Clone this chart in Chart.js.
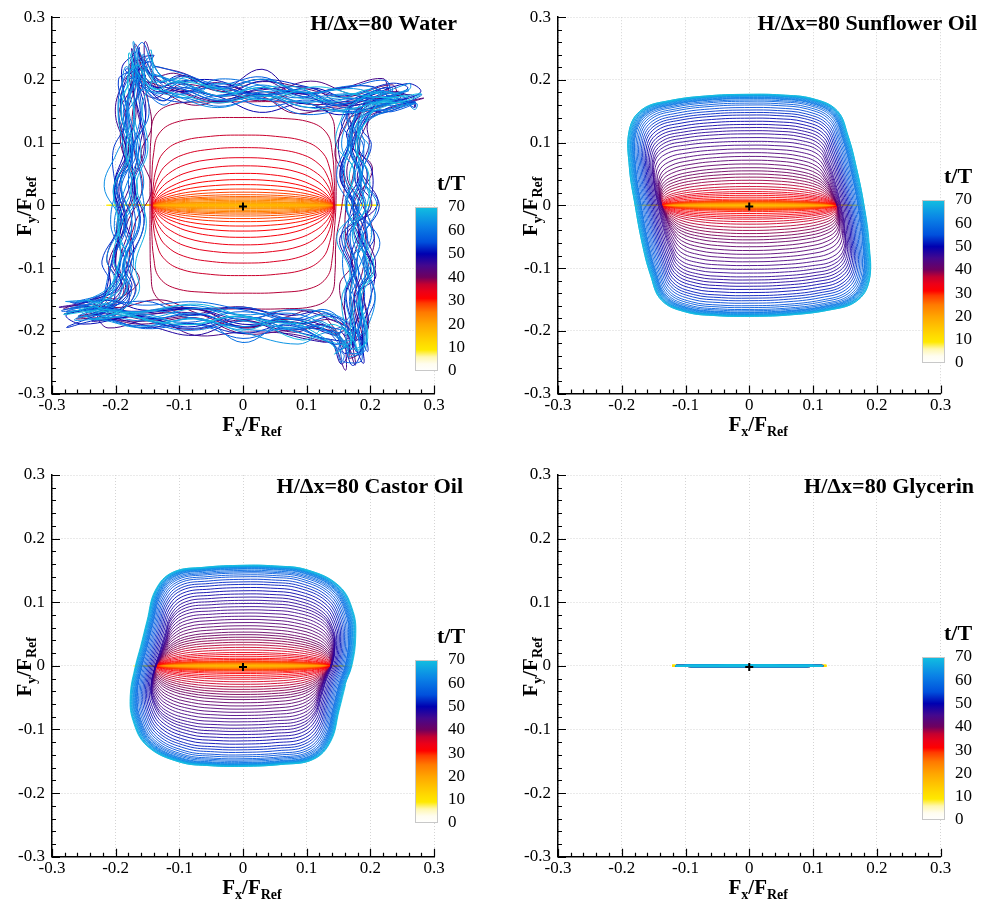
<!DOCTYPE html>
<html>
<head>
<meta charset="utf-8">
<script src="https://cdn.jsdelivr.net/npm/chart.js@4.4.1/dist/chart.umd.min.js"></script>
<style>
html, body { margin: 0; padding: 0; background: #fff; }
#wrap { position: relative; width: 981px; height: 907px; }
canvas { position: absolute; }
</style>
</head>
<body>
<div id="wrap">
  <canvas id="c1" width="490" height="440" style="left:0;top:0"></canvas>
  <canvas id="c2" width="491" height="440" style="left:490px;top:0"></canvas>
  <canvas id="c3" width="490" height="467" style="left:0;top:440px"></canvas>
  <canvas id="c4" width="491" height="467" style="left:490px;top:440px"></canvas>
</div>
<script>
var TICKS = [-0.3, -0.2, -0.1, 0, 0.1, 0.2, 0.3];
var CBAR_TICKS = [0, 10, 20, 30, 40, 50, 60, 70];
var TITLES = ['H/\u0394x=80 Water', 'H/\u0394x=80 Sunflower Oil', 'H/\u0394x=80 Castor Oil', 'H/\u0394x=80 Glycerin'];

// colour map of t/T
var CMAP_T = [0, 3, 6, 9, 12, 16, 20, 25, 29, 31, 34, 37, 40, 45, 50, 55, 62, 70];
var CMAP_C = ['#ffffff', '#fffdf0', '#fff7b0', '#ffe900', '#ffd900', '#ffc000', '#ffa500', '#ff7a00', '#ff3a00',
  '#ff0000', '#ec0018', '#c40030', '#70005e', '#44088e', '#0000b0', '#0050dc', '#0a82e6', '#12c0e0'];

// early arcs: lens shape, upper half from right crossing to left crossing (normalised)
var LENS_X = [1, 0.97, 0.9, 0.78, 0.58, 0.3, 0, -0.3, -0.58, -0.78, -0.9, -0.97, -1];
var LENS_Y = [0, 0.15, 0.38, 0.6, 0.82, 0.96, 1, 0.96, 0.82, 0.6, 0.38, 0.15, 0];

// time of each loop (sunflower and castor)
var LOOP_T = [0, 1, 2, 3, 4, 5, 6, 7, 8, 9,
  10, 11, 12, 13, 14, 15, 16, 17, 18, 19,
  20, 21, 22, 23, 24, 25, 26, 27, 28, 29,
  30, 31, 32, 33, 34, 35, 36, 37, 38,
  38.6, 39.2, 39.8, 40.4, 41, 41.6, 42.2, 42.8, 43.4, 44, 44.6, 45.2, 45.8, 46.4,
  47, 48, 49, 50, 51, 52, 53, 54, 55, 56, 57, 58, 59, 60, 61, 62, 63, 64, 65, 66, 67, 68, 69];

// ---- sunflower oil
var sunW = [0.180, 0.180, 0.180, 0.180, 0.180, 0.180, 0.180, 0.178, 0.172, 0.162,
  0.152, 0.145, 0.141, 0.139, 0.138, 0.138, 0.138, 0.138, 0.138, 0.138,
  0.138, 0.138, 0.138, 0.138, 0.138, 0.138, 0.138, 0.138, 0.138, 0.138,
  0.138, 0.138, 0.138, 0.138, 0.138, 0.138, 0.138, 0.138, 0.138,
  0.138, 0.138, 0.138, 0.138, 0.138, 0.138, 0.138, 0.139, 0.140, 0.141, 0.142, 0.143, 0.144, 0.146,
  0.148, 0.150, 0.152, 0.154, 0.156, 0.158, 0.160, 0.162, 0.164, 0.166, 0.168, 0.170, 0.171, 0.172, 0.173, 0.174, 0.175, 0.176, 0.177, 0.178, 0.179, 0.180, 0.180];
var sunH = [0, 0, 0, 0, 0, 0, 0, 0, 0, 0,
  0, 0, 0, 0, 0, 0, 0.001, 0.001, 0.002, 0.002,
  0.003, 0.003, 0.004, 0.004, 0.005, 0.005, 0.006, 0.006, 0.007, 0.008,
  0.010, 0.013, 0.016, 0.019, 0.022, 0.026, 0.030, 0.035, 0.040,
  0.045, 0.050, 0.055, 0.060, 0.066, 0.072, 0.078, 0.084, 0.090, 0.096, 0.102, 0.108, 0.114, 0.119,
  0.124, 0.129, 0.134, 0.139, 0.144, 0.148, 0.152, 0.156, 0.160, 0.163, 0.166, 0.168, 0.170, 0.171, 0.172, 0.173, 0.174, 0.175, 0.175, 0.176, 0.176, 0.177, 0.177];
var sunOuterX = [0.180, 0.168, 0.155, 0.138, 0.100, 0.050, 0.000, -0.060, -0.125, -0.168, -0.188, -0.188, -0.179];
var sunOuterY = [0.000, 0.060, 0.110, 0.150, 0.169, 0.175, 0.176, 0.174, 0.166, 0.152, 0.120, 0.060, 0.000];

// ---- castor oil
var castorW = [0.172, 0.172, 0.172, 0.172, 0.172, 0.172, 0.172, 0.170, 0.164, 0.156,
  0.149, 0.144, 0.141, 0.139, 0.138, 0.138, 0.138, 0.138, 0.138, 0.138,
  0.138, 0.138, 0.138, 0.138, 0.138, 0.138, 0.138, 0.138, 0.138, 0.138,
  0.138, 0.138, 0.138, 0.138, 0.138, 0.138, 0.138, 0.138, 0.138,
  0.138, 0.138, 0.138, 0.138, 0.138, 0.138, 0.138, 0.138, 0.138, 0.138, 0.138, 0.138, 0.139, 0.139,
  0.140, 0.142, 0.144, 0.146, 0.148, 0.150, 0.152, 0.154, 0.156, 0.158, 0.160, 0.161, 0.162, 0.163, 0.164, 0.165, 0.166, 0.167, 0.168, 0.169, 0.170, 0.170, 0.171];
var castorH = [0, 0, 0, 0, 0, 0, 0, 0, 0, 0,
  0, 0, 0, 0, 0, 0, 0.001, 0.001, 0.002, 0.002,
  0.003, 0.003, 0.004, 0.004, 0.005, 0.005, 0.006, 0.006, 0.007, 0.008,
  0.010, 0.012, 0.015, 0.018, 0.021, 0.025, 0.029, 0.033, 0.037,
  0.041, 0.045, 0.049, 0.053, 0.058, 0.063, 0.068, 0.073, 0.078, 0.083, 0.088, 0.093, 0.098, 0.103,
  0.108, 0.113, 0.118, 0.123, 0.128, 0.132, 0.136, 0.140, 0.143, 0.146, 0.148, 0.150, 0.152, 0.153, 0.154, 0.155, 0.155, 0.156, 0.156, 0.157, 0.157, 0.158, 0.158];
var castorOuterX = [0.170, 0.176, 0.172, 0.150, 0.100, 0.050, 0.000, -0.060, -0.110, -0.137, -0.150, -0.160, -0.168];
var castorOuterY = [0.000, 0.045, 0.085, 0.125, 0.150, 0.156, 0.157, 0.154, 0.146, 0.118, 0.070, 0.030, 0.000];

// ---- water: loops t = 0..38 (arcs), then t = 39..69 (noisy rings)
var waterW = [0.215, 0.215, 0.215, 0.215, 0.215, 0.215, 0.215, 0.215, 0.214, 0.210,
  0.200, 0.185, 0.172, 0.162, 0.155, 0.150, 0.148, 0.146, 0.145, 0.144,
  0.144, 0.143, 0.143, 0.143, 0.143, 0.143, 0.143, 0.143, 0.143, 0.143,
  0.143, 0.143, 0.143, 0.143, 0.143, 0.143, 0.143, 0.144, 0.146];
var waterH = [0, 0, 0, 0, 0, 0, 0, 0, 0, 0,
  0, 0, 0, 0, 0, 0, 0, 0.001, 0.002, 0.003,
  0.004, 0.005, 0.006, 0.008, 0.010, 0.012, 0.014, 0.017, 0.021, 0.026,
  0.033, 0.041, 0.051, 0.063, 0.076, 0.092, 0.112, 0.140, 0.165];
var waterBoxX = [1, 1.0, 0.99, 0.95, 0.78, 0.4, 0, -0.4, -0.78, -0.95, -0.99, -1.0, -1];
var waterBoxY = [0, 0.35, 0.65, 0.86, 0.97, 1.0, 1, 1.0, 0.97, 0.86, 0.65, 0.35, 0];
var waterRingX = [0.185, 0.182, 0.180, 0.183, 0.205, 0.245, 0.262, 0.230, 0.170, 0.100, 0.030, -0.040, -0.100, -0.140,
  -0.160, -0.168, -0.178, -0.180, -0.182, -0.185, -0.190, -0.195, -0.200, -0.225, -0.262, -0.230,
  -0.160, -0.080, 0.000, 0.080, 0.140, 0.165, 0.175, 0.185, 0.188, 0.188, 0.187];
var waterRingY = [0.000, 0.050, 0.100, 0.140, 0.163, 0.172, 0.175, 0.178, 0.172, 0.177, 0.182, 0.186, 0.190, 0.195,
  0.215, 0.240, 0.210, 0.150, 0.090, 0.030, -0.030, -0.090, -0.140, -0.163, -0.170, -0.178,
  -0.178, -0.183, -0.187, -0.193, -0.200, -0.215, -0.240, -0.210, -0.150, -0.100, -0.050];
var waterRingSX = [0.84, 0.92, 0.97, 1.03, 0.95, 0.89, 1.05, 0.98, 0.87, 1.00, 0.93, 1.04, 0.90, 0.97, 1.06, 0.88,
  0.99, 0.92, 1.02, 0.96, 0.86, 1.01, 0.95, 0.90, 1.05, 0.98, 0.91, 1.00, 0.84, 0.96, 1.03];
var waterRingSY = [0.88, 0.96, 1.03, 0.93, 1.00, 1.06, 0.91, 0.98, 1.04, 0.95, 0.88, 1.01, 0.97, 1.05, 0.92, 0.99,
  0.90, 1.06, 0.96, 0.87, 1.02, 0.94, 1.00, 0.97, 0.89, 1.04, 0.95, 0.99, 1.01, 0.91, 0.98];
var waterWiggleA = [0.000, 0.006, -0.008, 0.010, -0.004, 0.006, 0.012, -0.006, 0.008, -0.010, 0.014, 0.004, -0.008,
  0.010, -0.006, 0.020, 0.006, -0.010, 0.008, -0.012, 0.010, 0.016, -0.006, 0.008, -0.004, 0.010, -0.008, 0.012,
  0.030, 0.008, -0.010, 0.012, -0.006, 0.010, -0.008, 0.014, 0.004];
var waterWiggleB = [-0.004, 0.010, -0.006, 0.004, 0.012, -0.008, 0.006, 0.016, -0.004, 0.010, -0.012, 0.008, 0.018,
  -0.006, 0.012, -0.008, 0.004, 0.012, -0.010, 0.006, 0.014, -0.008, 0.010, 0.004, -0.012, 0.008, 0.024, -0.006,
  0.010, -0.008, 0.012, 0.004, -0.010, 0.016, -0.004, 0.008, -0.006];
var waterWiggleC = [0.008, -0.010, 0.012, 0.000, -0.008, 0.010, -0.004, 0.014, -0.010, 0.006, 0.012, -0.006, 0.028,
  -0.008, 0.010, -0.004, 0.008, -0.012, 0.014, -0.006, 0.004, 0.010, -0.010, 0.016, 0.006, -0.008, 0.012, -0.004,
  0.010, 0.018, -0.010, 0.006, 0.012, -0.008, 0.004, 0.010, -0.006];
var waterWiggleD = [-0.006, 0.004, 0.014, -0.010, 0.008, -0.004, 0.010, -0.012, 0.006, 0.016, -0.006, 0.010, -0.004,
  0.012, -0.010, 0.008, 0.022, -0.006, 0.004, -0.010, 0.012, -0.004, 0.008, -0.012, 0.010, 0.004, -0.008, 0.014,
  -0.006, 0.026, 0.006, -0.012, 0.010, -0.004, 0.012, -0.008, 0.006];
var waterWiggleUse = [0, 1, 2, 3, 1, 0, 3, 2, 2, 3, 0, 1, 3, 2, 1, 0, 0, 2, 1, 3, 2, 0, 3, 1, 1, 3, 2, 0, 3, 1, 2];
var waterWiggleShift = [0, 5, 11, 3, 17, 8, 22, 14, 2, 29, 9, 19, 6, 25, 12, 31, 4, 16, 27, 10, 21, 1, 33, 13, 7, 24, 18, 35, 15, 28, 20];

// ---- glycerin
var glyT = [0, 2, 4, 6, 8, 9, 10, 11, 12, 16, 20, 25, 30, 35, 40, 45, 50, 55, 60, 64, 67, 69];
var glyW = [0.121, 0.121, 0.121, 0.121, 0.121, 0.121, 0.121, 0.121,
  0.115, 0.115, 0.115, 0.115, 0.115, 0.115, 0.115, 0.115, 0.115, 0.115, 0.115, 0.115, 0.115, 0.115];
var glyH = [0, 0, 0, 0, 0, 0, 0, 0,
  0.0008, 0.0008, 0.0008, 0.0008, 0.0008, 0.0008, 0.0008, 0.0008, 0.0008, 0.0008, 0.0008, 0.0008, 0.0008, 0.0008];

var WATER_WIGGLES = [waterWiggleA, waterWiggleB, waterWiggleC, waterWiggleD];
var SERIF = '"Liberation Serif", "DejaVu Serif", serif';

function hexRgb(h) {
  return [parseInt(h.substr(1, 2), 16), parseInt(h.substr(3, 2), 16), parseInt(h.substr(5, 2), 16)];
}

function colorAt(t) {
  if (t <= CMAP_T[0]) return CMAP_C[0];
  for (var i = 1; i < CMAP_T.length; i++) {
    if (t <= CMAP_T[i]) {
      var f = (t - CMAP_T[i - 1]) / (CMAP_T[i] - CMAP_T[i - 1]);
      var a = hexRgb(CMAP_C[i - 1]), b = hexRgb(CMAP_C[i]);
      return 'rgb(' + Math.round(a[0] + (b[0] - a[0]) * f) + ',' + Math.round(a[1] + (b[1] - a[1]) * f) + ',' +
        Math.round(a[2] + (b[2] - a[2]) * f) + ')';
    }
  }
  return CMAP_C[CMAP_C.length - 1];
}

// one closed loop: upper half blended lens -> outer shape, lower half point-mirrored
function loopPoints(w, h, ox, oy, s) {
  var ow = ox[0], oh = oy[6], up = [], pts = [], k;
  for (k = 0; k < LENS_X.length; k++) {
    up.push([w * ((1 - s) * LENS_X[k] + s * ox[k] / ow), h * ((1 - s) * LENS_Y[k] + s * oy[k] / oh)]);
  }
  for (k = 0; k < up.length; k++) pts.push(up[k]);
  for (k = 1; k < up.length - 1; k++) pts.push([-up[k][0], -up[k][1]]);
  return pts;
}

function ringPoints(i) {
  var wig = WATER_WIGGLES[waterWiggleUse[i]], sh = waterWiggleShift[i], n = waterRingX.length, pts = [];
  for (var k = 0; k < n; k++) {
    var x = waterRingX[k] * waterRingSX[i], y = waterRingY[k] * waterRingSY[i];
    var r = Math.sqrt(x * x + y * y), d = wig[(k + sh) % n];
    pts.push([x + d * x / r, y + d * y / r]);
  }
  return pts;
}

function addLoop(tr, pts, t) {
  var c = colorAt(t);
  pts.forEach(function(p) {
    tr.data.push({x: p[0], y: p[1]});
    tr.cols.push(c);
  });
}

function clamp01(v) { return Math.max(0, Math.min(1, v)); }

function waterTrace() {
  var tr = {data: [], cols: []}, i;
  for (i = 0; i < waterW.length; i++) {
    addLoop(tr, loopPoints(waterW[i], waterH[i], waterBoxX, waterBoxY, clamp01((waterH[i] - 0.05) / 0.11)), i + 0.5);
  }
  for (i = 0; i < waterRingSX.length; i++) {
    addLoop(tr, ringPoints(i), waterW.length + i + 0.5);
  }
  return tr;
}

function oilTrace(W, H, ox, oy, hs) {
  var tr = {data: [], cols: []};
  for (var i = 0; i < LOOP_T.length; i++) {
    addLoop(tr, loopPoints(W[i], H[i], ox, oy, clamp01(H[i] / hs)), LOOP_T[i] + 0.5);
  }
  return tr;
}

function glyTrace() {
  var tr = {data: [], cols: []};
  for (var i = 0; i < glyT.length; i++) {
    addLoop(tr, loopPoints(glyW[i], glyH[i], LENS_X, LENS_Y, 0), glyT[i] + 0.5);
  }
  return tr;
}

function drawFrac(ctx, sub1, sub2, x, y, rot) {
  var big = 'bold 21px ' + SERIF, small = 'bold 14px ' + SERIF;
  var parts = [['F', big, 0], [sub1, small, 5], ['/', big, 0], ['F', big, 0], [sub2, small, 5]];
  ctx.save();
  ctx.translate(x, y);
  if (rot) ctx.rotate(-Math.PI / 2);
  var total = 0;
  parts.forEach(function(p) { ctx.font = p[1]; total += ctx.measureText(p[0]).width; });
  var cx = -total / 2;
  ctx.textAlign = 'left';
  ctx.textBaseline = 'alphabetic';
  ctx.fillStyle = '#000';
  parts.forEach(function(p) {
    ctx.font = p[1];
    ctx.fillText(p[0], cx, p[2]);
    cx += ctx.measureText(p[0]).width;
  });
  ctx.restore();
}

var decorPlugin = {
  id: 'decor',
  afterDraw: function(chart) {
    var o = chart.options.plugins.decor;
    var ctx = chart.ctx, a = chart.chartArea;
    var xs = chart.scales.x, ys = chart.scales.y;
    ctx.save();
    // inward major / minor ticks
    ctx.strokeStyle = '#000';
    ctx.lineWidth = 1.2;
    ctx.beginPath();
    for (var i = -15; i <= 15; i++) {
      var v = i / 50, len = (i % 5 === 0) ? 8 : 4;
      var px = Math.round(xs.getPixelForValue(v)) + 0.5, py = Math.round(ys.getPixelForValue(v)) + 0.5;
      ctx.moveTo(px, a.bottom);
      ctx.lineTo(px, a.bottom - len);
      ctx.moveTo(a.left, py);
      ctx.lineTo(a.left + len, py);
    }
    ctx.stroke();

    // axis titles
    drawFrac(ctx, 'x', 'Ref', (a.left + a.right) / 2 + 9, a.bottom + 37, false);
    drawFrac(ctx, 'y', 'Ref', a.left - 21, (a.top + a.bottom) / 2 + 1, true);

    // panel title
    ctx.font = 'bold 22px ' + SERIF;
    ctx.fillStyle = '#000';
    ctx.textAlign = 'right';
    ctx.textBaseline = 'alphabetic';
    ctx.fillText(o.title, o.titleXY[0], o.titleXY[1]);

    // colour bar
    var bx = o.bar[0], by = o.bar[1], bw = o.bar[2], bh = o.bar[3];
    var g = ctx.createLinearGradient(0, by + bh, 0, by);
    for (var k = 0; k < CMAP_T.length; k++) g.addColorStop(CMAP_T[k] / 70, CMAP_C[k]);
    ctx.fillStyle = g;
    ctx.fillRect(bx, by, bw, bh);
    ctx.strokeStyle = '#c8c8c8';
    ctx.lineWidth = 1;
    ctx.strokeRect(bx + 0.5, by + 0.5, bw - 1, bh - 1);
    ctx.fillStyle = '#000';
    ctx.font = '17px ' + SERIF;
    ctx.textAlign = 'left';
    ctx.textBaseline = 'middle';
    CBAR_TICKS.forEach(function(t) {
      ctx.fillText(String(t), bx + bw + 10, by + bh - t / 70 * bh);
    });
    ctx.font = 'bold 22px ' + SERIF;
    ctx.textBaseline = 'alphabetic';
    ctx.fillText('t/T', bx + bw - 1, by - 17);
    ctx.restore();
  }
};

function fmt(v) { return String(Math.round(v * 10) / 10); }

function axis(p, horizontal) {
  return {
    type: 'linear',
    min: -0.3,
    max: 0.3,
    afterBuildTicks: function(s) { s.ticks = TICKS.map(function(v) { return {value: v}; }); },
    afterFit: function(s) { if (horizontal) s.height = p.xHeight; else s.width = p.yWidth; },
    ticks: {
      callback: fmt,
      color: '#000',
      font: {family: SERIF, size: 17},
      padding: horizontal ? 2 : 7,
      maxRotation: 0,
      autoSkip: false
    },
    grid: {color: '#d4d4d4', lineWidth: 1, drawTicks: false},
    border: {color: '#000', width: 1.5, dash: [1, 2]}
  };
}

var panels = [
  {id: 'c1', title: TITLES[0], yWidth: 52, xHeight: 46.5, pad: {left: 0, top: 12, right: 56, bottom: 0},
    bar: [415, 207, 23, 164], titleXY: [457, 30], trace: waterTrace(), lw: 1},
  {id: 'c2', title: TITLES[1], yWidth: 68, xHeight: 46.5, pad: {left: 0, top: 12, right: 40.5, bottom: 0},
    bar: [432, 200, 23, 163], titleXY: [487, 30], trace: oilTrace(sunW, sunH, sunOuterX, sunOuterY, 0.1), lw: 0.9},
  {id: 'c3', title: TITLES[2], yWidth: 52, xHeight: 50.3, pad: {left: 0, top: 35, right: 56, bottom: 0},
    bar: [415, 220, 23, 163], titleXY: [463, 53], trace: oilTrace(castorW, castorH, castorOuterX, castorOuterY, 0.09), lw: 0.9},
  {id: 'c4', title: TITLES[3], yWidth: 68, xHeight: 50.3, pad: {left: 0, top: 35, right: 40.5, bottom: 0},
    bar: [432, 217, 23, 163], titleXY: [484, 53], trace: glyTrace(), lw: 2}
];

panels.forEach(function(p) {
  var tr = p.trace;
  new Chart(document.getElementById(p.id), {
    type: 'scatter',
    data: {
      datasets: [
        {data: [{x: 0, y: -0.002}], pointStyle: 'cross', pointRadius: 4, borderColor: '#000',
          backgroundColor: '#000', borderWidth: 2, showLine: false},
        {data: tr.data, showLine: true, pointRadius: 0, borderWidth: p.lw, tension: 0.4, fill: false,
          borderColor: tr.cols[0],
          segment: {borderColor: function(c) { return tr.cols[c.p0DataIndex]; }}}
      ]
    },
    options: {
      responsive: false,
      animation: false,
      devicePixelRatio: 1,
      events: [],
      layout: {padding: p.pad},
      plugins: {legend: {display: false}, tooltip: {enabled: false}, decor: p},
      scales: {x: axis(p, true), y: axis(p, false)}
    },
    plugins: [decorPlugin]
  });
});
</script>
</body>
</html>
